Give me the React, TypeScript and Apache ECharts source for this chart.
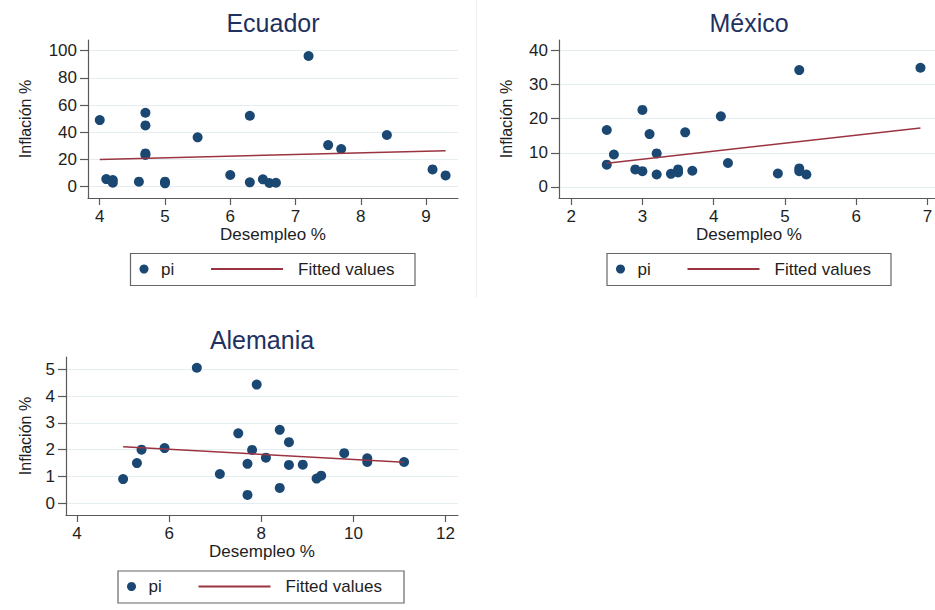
import React, { useEffect, useRef } from "react";
import * as echarts from "echarts";

// Ecuador: unemployment (%) vs inflation (%)
const ecuadorDesempleo = [4.0, 4.1, 4.2, 4.2, 4.6, 4.7, 4.7, 4.7, 4.7, 5.0, 5.0, 5.5, 6.0, 6.3, 6.3, 6.5, 6.6, 6.7, 7.2, 7.5, 7.7, 8.4, 9.1, 9.3];
const ecuadorInflacion = [49.0, 5.6, 4.9, 2.9, 3.7, 54.4, 45.1, 24.5, 23.3, 3.7, 2.5, 36.3, 8.6, 52.2, 3.2, 5.4, 2.7, 2.9, 96.1, 30.6, 27.7, 38.0, 12.7, 8.3];
const ecuadorAjusteX = [4.0, 9.3];
const ecuadorAjusteY = [20.1, 26.5];

// México
const mexicoDesempleo = [2.5, 2.5, 2.6, 2.9, 3.0, 3.0, 3.1, 3.2, 3.2, 3.4, 3.5, 3.5, 3.6, 3.7, 4.1, 4.2, 4.9, 5.2, 5.2, 5.2, 5.3, 6.9];
const mexicoInflacion = [16.7, 6.5, 9.5, 5.1, 4.6, 22.6, 15.5, 9.8, 3.6, 3.8, 5.1, 4.2, 16.0, 4.7, 20.7, 7.0, 3.9, 34.3, 5.4, 4.6, 3.6, 35.0];
const mexicoAjusteX = [2.5, 6.9];
const mexicoAjusteY = [6.9, 17.3];

// Alemania
const alemaniaDesempleo = [5.0, 5.3, 5.4, 5.9, 6.6, 7.1, 7.5, 7.7, 7.7, 7.8, 7.9, 8.1, 8.4, 8.4, 8.6, 8.6, 8.9, 9.2, 9.3, 9.8, 10.3, 10.3, 11.1];
const alemaniaInflacion = [0.9, 1.5, 2.0, 2.06, 5.06, 1.09, 2.61, 1.47, 0.31, 1.99, 4.43, 1.7, 2.74, 0.57, 2.28, 1.43, 1.44, 0.92, 1.03, 1.87, 1.68, 1.54, 1.54];
const alemaniaAjusteX = [5.0, 11.1];
const alemaniaAjusteY = [2.11, 1.53];

// Tick labels
const ecuadorTicksX = [4, 5, 6, 7, 8, 9];
const ecuadorTicksY = [0, 20, 40, 60, 80, 100];
const mexicoTicksX = [2, 3, 4, 5, 6, 7];
const mexicoTicksY = [0, 10, 20, 30, 40];
const alemaniaTicksX = [4, 6, 8, 10, 12];
const alemaniaTicksY = [0, 1, 2, 3, 4, 5];

const FONT = "'Liberation Sans', Arial, Helvetica, sans-serif";
const DOT = "#1a4873";
const FIT = "#9b3441";
const AXIS = "#5a5a5a";
const TEXT = "#1e1e1e";
const TITLE = "#1e3160";
const GRIDLINE = "#e4edef";

type Panel = {
  title: string;
  xs: number[];
  ys: number[];
  fitX: number[];
  fitY: number[];
  ticksX: number[];
  ticksY: number[];
  range: { xMin: number; xMax: number; yMin: number; yMax: number };
  box: { left: number; top: number; width: number; height: number };
  yNameGap: number;
  titlePos: [number, number];
  legendBox: { x: number; y: number; w: number; h: number };
};

const panels: Panel[] = [
  {
    title: "Ecuador",
    xs: ecuadorDesempleo,
    ys: ecuadorInflacion,
    fitX: ecuadorAjusteX,
    fitY: ecuadorAjusteY,
    ticksX: ecuadorTicksX,
    ticksY: ecuadorTicksY,
    range: { xMin: 3.82, xMax: 9.49, yMin: -8.3, yMax: 107.9 },
    box: { left: 88, top: 40, width: 370, height: 158 },
    yNameGap: 55,
    titlePos: [273, 23],
    legendBox: { x: 130.5, y: 253.5, w: 284.5, h: 32 },
  },
  {
    title: "México",
    xs: mexicoDesempleo,
    ys: mexicoInflacion,
    fitX: mexicoAjusteX,
    fitY: mexicoAjusteY,
    ticksX: mexicoTicksX,
    ticksY: mexicoTicksY,
    range: { xMin: 1.83, xMax: 7.16, yMin: -3.3, yMax: 43.15 },
    box: { left: 559, top: 40, width: 380, height: 158 },
    yNameGap: 45,
    titlePos: [749, 23],
    legendBox: { x: 607, y: 253.5, w: 284, h: 32 },
  },
  {
    title: "Alemania",
    xs: alemaniaDesempleo,
    ys: alemaniaInflacion,
    fitX: alemaniaAjusteX,
    fitY: alemaniaAjusteY,
    ticksX: alemaniaTicksX,
    ticksY: alemaniaTicksY,
    range: { xMin: 3.76, xMax: 12.27, yMin: -0.44, yMax: 5.46 },
    box: { left: 66, top: 357, width: 392, height: 158 },
    yNameGap: 33,
    titlePos: [262, 340],
    legendBox: { x: 118, y: 571, w: 286, h: 32 },
  },
];

function buildOption(): echarts.EChartsOption {
  const grid = panels.map((p) => ({
    left: p.box.left,
    top: p.box.top,
    width: p.box.width,
    height: p.box.height,
    containLabel: false,
    outerBoundsMode: "none",
  }));

  const xAxis = panels.map((p, i) => ({
    type: "value",
    gridIndex: i,
    min: p.range.xMin,
    max: p.range.xMax,
    name: "Desempleo %",
    nameLocation: "middle",
    nameGap: 28,
    nameMoveOverlap: false,
    nameTextStyle: { fontFamily: FONT, fontSize: 17, color: TEXT },
    axisLine: { show: true, onZero: false, lineStyle: { color: AXIS, width: 1.2 } },
    axisTick: { show: true, length: 7, customValues: p.ticksX, lineStyle: { color: AXIS, width: 1.2 } },
    axisLabel: { show: true, customValues: p.ticksX, margin: 10, fontFamily: FONT, fontSize: 17, color: TEXT },
    splitLine: { show: false },
  }));

  const yAxis = panels.map((p, i) => ({
    type: "value",
    gridIndex: i,
    min: p.range.yMin,
    max: p.range.yMax,
    name: "Inflación %",
    nameLocation: "middle",
    nameGap: p.yNameGap,
    nameMoveOverlap: false,
    nameTextStyle: { fontFamily: FONT, fontSize: 16, color: TEXT },
    axisLine: { show: true, onZero: false, lineStyle: { color: AXIS, width: 1.2 } },
    axisTick: { show: true, length: 8, customValues: p.ticksY, lineStyle: { color: AXIS, width: 1.2 } },
    axisLabel: { show: true, customValues: p.ticksY, margin: 11, fontFamily: FONT, fontSize: 17, color: TEXT },
    splitLine: { show: true, lineStyle: { color: GRIDLINE, width: 1.2 } },
  }));

  const series: any[] = [];
  panels.forEach((p, i) => {
    series.push({
      type: "scatter",
      name: "pi",
      xAxisIndex: i,
      yAxisIndex: i,
      symbol: "circle",
      symbolSize: 10,
      color: DOT,
      itemStyle: { color: DOT, opacity: 1 },
      data: p.xs.map((x, k) => [x, p.ys[k]]),
      z: 2,
    });
  });
  panels.forEach((p, i) => {
    series.push({
      type: "line",
      name: "Fitted values",
      xAxisIndex: i,
      yAxisIndex: i,
      symbol: "none",
      showSymbol: false,
      color: FIT,
      itemStyle: { color: FIT },
      lineStyle: { color: FIT, width: 1.5 },
      data: p.fitX.map((x, k) => [x, p.fitY[k]]),
      z: 3,
    });
  });

  const legend: any[] = [];
  panels.forEach((p) => {
    const cy = p.legendBox.y + p.legendBox.h / 2;
    legend.push({
      data: [{ name: "pi", icon: "circle", itemStyle: { color: DOT, opacity: 1 } }],
      left: p.legendBox.x + 9,
      top: cy - 9,
      padding: 0,
      itemWidth: 24,
      itemHeight: 9,
      selectedMode: false,
      textStyle: { fontFamily: FONT, fontSize: 17, color: TEXT },
    });
    legend.push({
      data: [{ name: "Fitted values", icon: "rect", itemStyle: { color: FIT, borderWidth: 0 } }],
      left: p.legendBox.x + 80.5,
      top: cy - 9,
      padding: 0,
      itemWidth: 72,
      itemHeight: 2,
      selectedMode: false,
      textStyle: { fontFamily: FONT, fontSize: 17, color: TEXT, padding: [0, 0, 0, 10] },
    });
  });

  const graphic: any[] = [
    {
      type: "line",
      shape: { x1: 476.5, y1: 0, x2: 476.5, y2: 298 },
      style: { stroke: "#efefef", lineWidth: 1 },
      silent: true,
    },
  ];
  panels.forEach((p) => {
    graphic.push({
      type: "text",
      x: p.titlePos[0],
      y: p.titlePos[1],
      style: {
        text: p.title,
        fill: TITLE,
        font: `25px ${FONT}`,
        align: "center",
        verticalAlign: "middle",
        textAlign: "center",
        textVerticalAlign: "middle",
      },
      silent: true,
    });
    graphic.push({
      type: "rect",
      shape: { x: p.legendBox.x, y: p.legendBox.y, width: p.legendBox.w, height: p.legendBox.h },
      style: { fill: "none", stroke: "#666666", lineWidth: 1.2 },
      silent: true,
    });
  });

  return {
    animation: false,
    backgroundColor: "#ffffff",
    textStyle: { fontFamily: FONT },
    grid,
    xAxis,
    yAxis,
    series,
    legend,
    graphic,
  } as any;
}

export default function App() {
  const ref = useRef<HTMLDivElement>(null);

  useEffect(() => {
    if (!ref.current) return;
    const chart = echarts.init(ref.current, null, { renderer: "svg" });
    chart.setOption(buildOption());
    return () => chart.dispose();
  }, []);

  return (
    <div
      ref={ref}
      style={{ position: "absolute", left: 0, top: 0, width: 935, height: 610, background: "#ffffff" }}
    />
  );
}
